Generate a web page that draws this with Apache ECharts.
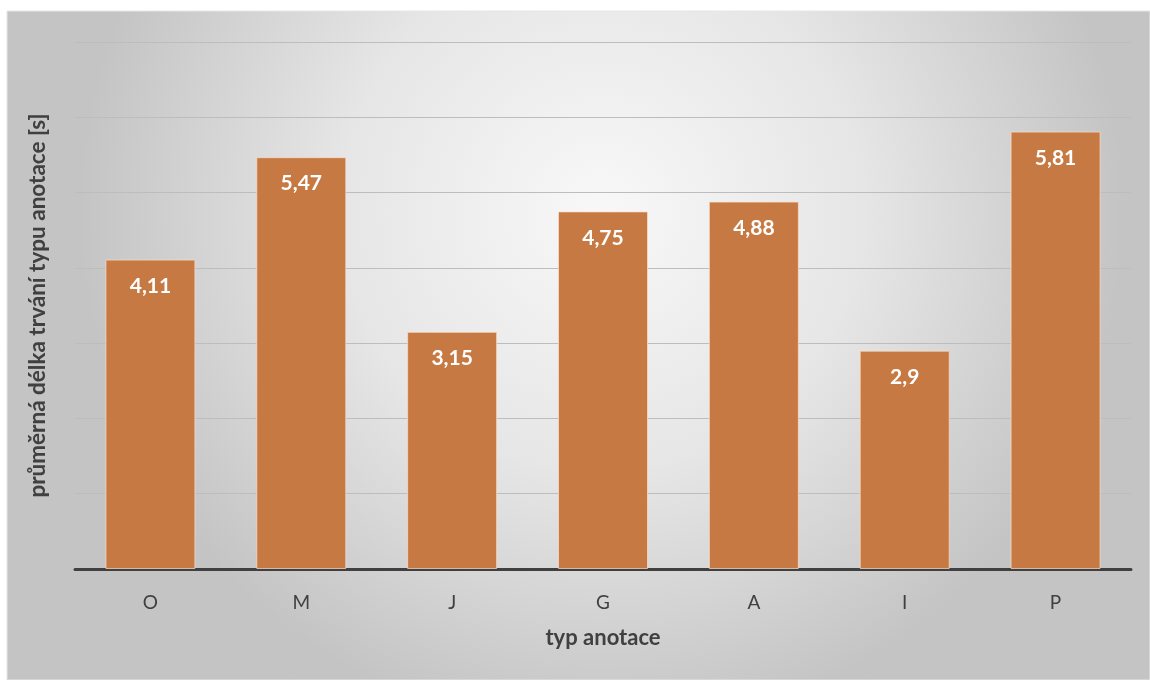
<!DOCTYPE html>
<html>
<head>
<meta charset="utf-8">
<script src="https://cdn.jsdelivr.net/npm/echarts@6/dist/echarts.min.js"></script>
<style>
  html, body { margin: 0; padding: 0; background: #ffffff; }
  #chart { width: 1150px; height: 680px; }
</style>
</head>
<body>
<div id="chart"></div>
<script>
// Average duration per annotation type, in seconds
const categories = ['O', 'M', 'J', 'G', 'A', 'I', 'P'];
const durations = [4.11, 5.47, 3.15, 4.75, 4.88, 2.9, 5.81];

const chart = echarts.init(document.getElementById('chart'), null, { renderer: 'canvas' });

chart.setOption({
  animation: false,
  backgroundColor: '#ffffff',
  graphic: [{
    type: 'rect',
    z: -10,
    silent: true,
    shape: { x: 7, y: 11, width: 1143, height: 669 },
    style: {
      fill: new echarts.graphic.RadialGradient(0.52, 0.3, 0.78, [
        { offset: 0, color: '#f8f8f8' },
        { offset: 0.5, color: '#e6e6e6' },
        { offset: 1, color: '#c4c4c4' }
      ]),
      stroke: '#e6e6e6',
      lineWidth: 1
    }
  }],
  grid: { left: 75, right: 19, top: 42, bottom: 111, containLabel: false },
  xAxis: {
    type: 'category',
    data: categories,
    name: 'typ anotace',
    nameLocation: 'middle',
    nameGap: 58,
    nameTextStyle: { fontFamily: 'Lato', fontWeight: 'bold', fontSize: 22, color: '#404040' },
    axisLine: { show: true, lineStyle: { color: '#404040', width: 3 } },
    axisTick: { show: false },
    axisLabel: { fontFamily: 'Lato', fontSize: 19, color: '#404040', margin: 24 }
  },
  yAxis: {
    type: 'value',
    min: 0,
    max: 7,
    interval: 1,
    name: 'průměrná délka trvání typu anotace [s]',
    nameLocation: 'middle',
    nameGap: 26,
    nameRotate: 90,
    nameTextStyle: { fontFamily: 'Lato', fontWeight: 'bold', fontSize: 22.5, color: '#404040' },
    axisLine: { show: false },
    axisTick: { show: false },
    axisLabel: { show: false },
    splitLine: { show: true, lineStyle: { color: '#bdbdbd', width: 1 } }
  },
  series: [{
    type: 'bar',
    data: durations,
    barWidth: 90,
    itemStyle: {
      color: '#C77943',
      borderColor: 'rgba(250,225,205,0.7)',
      borderWidth: 1
    },
    label: {
      show: true,
      position: 'insideTop',
      distance: 16,
      fontFamily: 'Lato',
      fontWeight: 'bold',
      fontSize: 21,
      color: '#ffffff',
      formatter: p => String(p.value).replace('.', ',')
    }
  }]
});
</script>
</body>
</html>
